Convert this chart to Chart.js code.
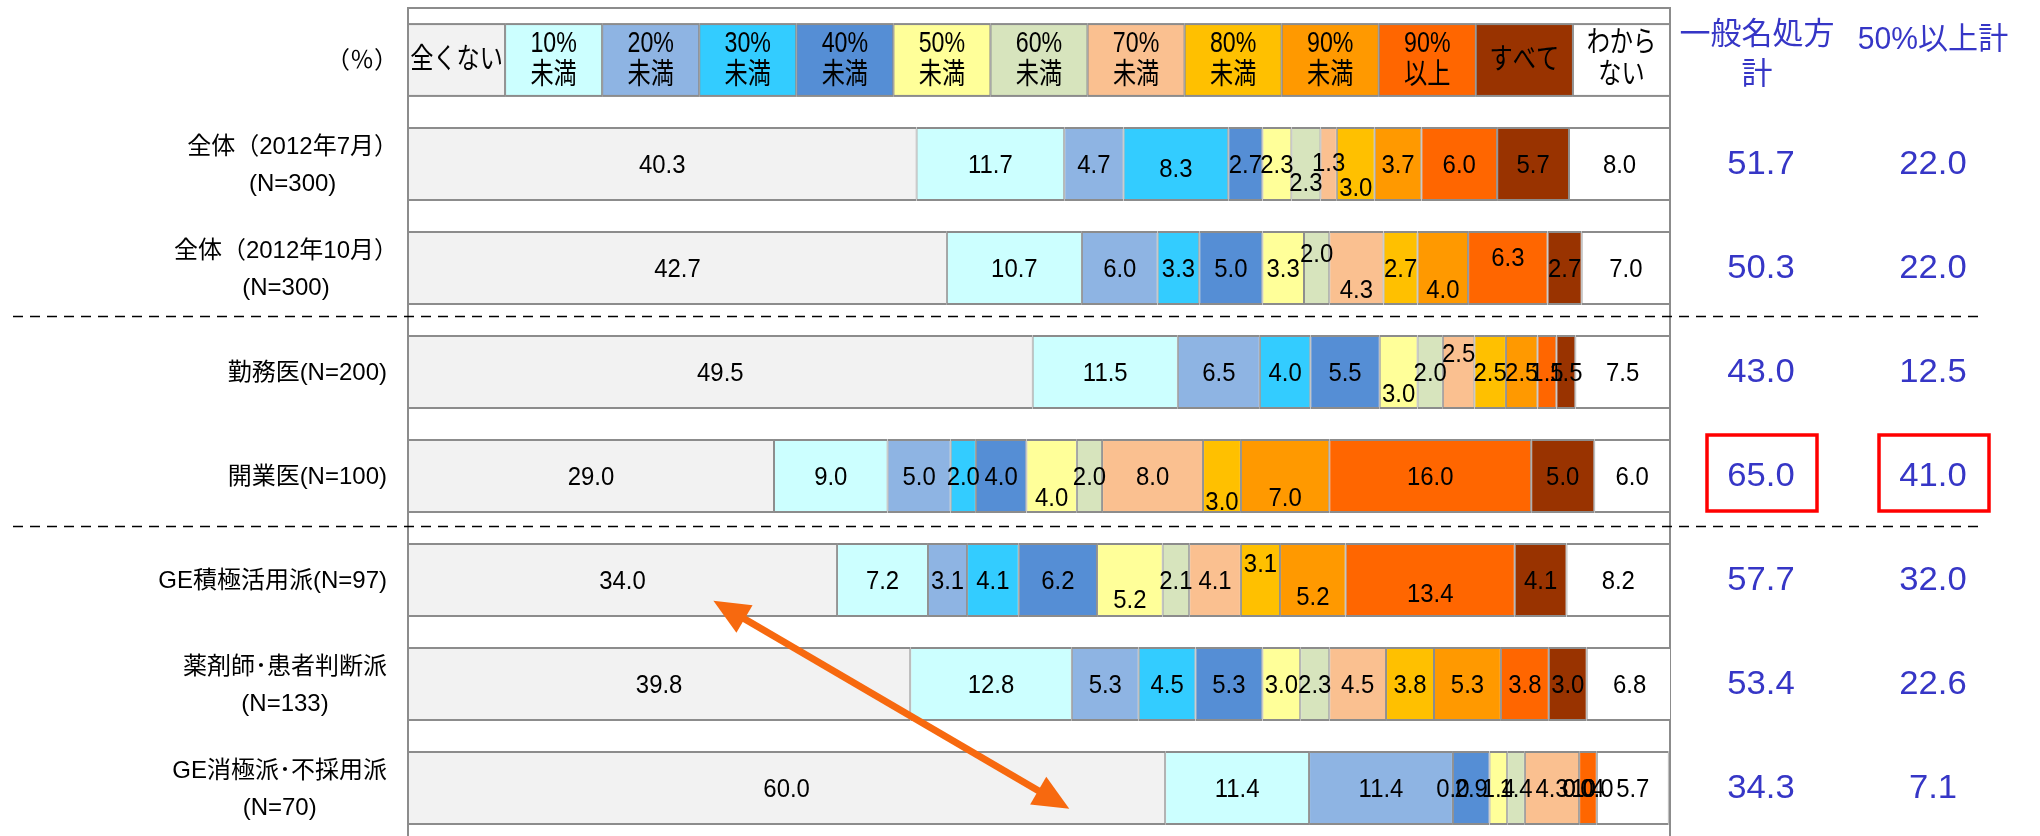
<!DOCTYPE html>
<html lang="ja">
<head>
<meta charset="utf-8">
<title>一般名処方の割合</title>
<script src="https://cdn.jsdelivr.net/npm/chart.js@4.4.1/dist/chart.umd.min.js"></script>
<style>
  html, body { margin: 0; padding: 0; background: #ffffff; overflow: hidden; }
  #wrap { width: 2040px; height: 848px; }
</style>
</head>
<body>
<div id="wrap"><canvas id="chart" width="2040" height="848"></canvas></div>
<script>
// Row captions (row 0 is the header strip that carries the colour key)
const rowLabels = [
  ['（％）'],
  ['全体（2012年7月）', '(N=300)'],
  ['全体（2012年10月）', '(N=300)'],
  ['勤務医(N=200)'],
  ['開業医(N=100)'],
  ['GE積極活用派(N=97)'],
  ['薬剤師･患者判断派', '(N=133)'],
  ['GE消極派･不採用派', '(N=70)']
];

// Answer categories (key captions, split into lines)
const categoryNames = [
  ['全くない'], ['10%', '未満'], ['20%', '未満'], ['30%', '未満'], ['40%', '未満'],
  ['50%', '未満'], ['60%', '未満'], ['70%', '未満'], ['80%', '未満'], ['90%', '未満'],
  ['90%', '以上'], ['すべて'], ['わから', 'ない']
];

// Shares (%) per category, rows: 7月, 10月, 勤務医, 開業医, GE積極, 薬剤師・患者, GE消極
const none       = [40.3, 42.7, 49.5, 29.0, 34.0, 39.8, 60.0];
const under10    = [11.7, 10.7, 11.5,  9.0,  7.2, 12.8, 11.4];
const under20    = [ 4.7,  6.0,  6.5,  5.0,  3.1,  5.3, 11.4];
const under30    = [ 8.3,  3.3,  4.0,  2.0,  4.1,  4.5,  0.0];
const under40    = [ 2.7,  5.0,  5.5,  4.0,  6.2,  5.3,  2.9];
const under50    = [ 2.3,  3.3,  3.0,  4.0,  5.2,  3.0,  1.4];
const under60    = [ 2.3,  2.0,  2.0,  2.0,  2.1,  2.3,  1.4];
const under70    = [ 1.3,  4.3,  2.5,  8.0,  4.1,  4.5,  4.3];
const under80    = [ 3.0,  2.7,  2.5,  3.0,  3.1,  3.8,  0.0];
const under90    = [ 3.7,  4.0,  2.5,  7.0,  5.2,  5.3,  0.0];
const over90     = [ 6.0,  6.3,  1.5, 16.0, 13.4,  3.8,  1.4];
const allOfThem  = [ 5.7,  2.7,  1.5,  5.0,  4.1,  3.0,  0.0];
const unknown    = [ 8.0,  7.0,  7.5,  6.0,  8.2,  6.8,  5.7];

// Summary columns
const genericTotal = [51.7, 50.3, 43.0, 65.0, 57.7, 53.4, 34.3];
const over50Total  = [22.0, 22.0, 12.5, 41.0, 32.0, 22.6, 7.1];
const summaryHeads = [['一般名処方', '計'], ['50%以上計']];
const highlightRow = 4;

const seriesValues = [none, under10, under20, under30, under40, under50, under60,
                      under70, under80, under90, over90, allOfThem, unknown];
const seriesColors = ['#F2F2F2', '#CCFFFF', '#8EB4E3', '#33CCFF', '#558ED5', '#FFFF99',
                      '#D7E4BD', '#FAC090', '#FFC000', '#FF9900', '#FF6600', '#993300', '#FFFFFF'];

// Vertical nudges (px) for crowded value labels: row -> {category: dy}
const labelNudge = {
  1: {3: 4, 6: 18, 7: -2, 8: 23},
  2: {6: -15, 7: 21, 9: 21, 10: -11},
  3: {5: 21, 7: -19},
  4: {5: 21, 8: 25, 9: 21},
  5: {5: 19, 8: -17, 9: 16, 10: 13}
};

const BORDER = '#8C8C8C';
const BLUE = '#3636C6';
const NUM_FONT = '"Liberation Sans", Arial, sans-serif';
const JP_FONT = '"Liberation Sans", "Noto Sans CJK JP", sans-serif';

function drawText(ctx, text, x, y, size, family, scaleX, align, color) {
  ctx.save();
  ctx.translate(x, y);
  ctx.scale(scaleX, 1);
  ctx.font = size + 'px ' + family;
  ctx.textAlign = align;
  ctx.textBaseline = 'middle';
  ctx.fillStyle = color;
  ctx.fillText(text, 0, 0);
  ctx.restore();
}

// White plot area with grey frame
const framePlugin = {
  id: 'frame',
  beforeDatasetsDraw(chart) {
    const {ctx, chartArea: a} = chart;
    ctx.save();
    ctx.fillStyle = '#ffffff';
    ctx.fillRect(a.left, a.top, a.right - a.left, a.bottom - a.top);
    ctx.strokeStyle = BORDER;
    ctx.lineWidth = 2;
    ctx.beginPath();
    ctx.moveTo(a.left, a.bottom + 10);
    ctx.lineTo(a.left, a.top);
    ctx.lineTo(a.right, a.top);
    ctx.lineTo(a.right, a.bottom + 10);
    ctx.stroke();
    ctx.restore();
  }
};

const overlayPlugin = {
  id: 'overlay',
  afterDatasetsDraw(chart) {
    const {ctx, chartArea: a} = chart;
    const xs = chart.scales.x, ys = chart.scales.y;
    const sample = chart.getDatasetMeta(0).data[1];
    const half = sample.height / 2;

    // colour key strip in row 0
    const yk = ys.getPixelForValue(0);
    const n = categoryNames.length;
    categoryNames.forEach((lines, i) => {
      const x0 = xs.getPixelForValue(i * 100 / n);
      const x1 = xs.getPixelForValue((i + 1) * 100 / n);
      ctx.fillStyle = BORDER;
      ctx.fillRect(x0, yk - half, x1 - x0, half * 2);
      ctx.fillStyle = seriesColors[i];
      ctx.fillRect(x0 + 1, yk - half + 2, x1 - x0 - 2, half * 2 - 4);
      const cx = (x0 + x1) / 2;
      if (lines.length === 1) {
        drawText(ctx, lines[0], cx, yk + 1, 29, JP_FONT, 0.8, 'center', '#000');
      } else {
        drawText(ctx, lines[0], cx, yk - 16, 29, JP_FONT, 0.8, 'center', '#000');
        drawText(ctx, lines[1], cx, yk + 16, 29, JP_FONT, 0.8, 'center', '#000');
      }
    });

    // value labels on the segments
    chart.data.datasets.forEach((ds, i) => {
      const meta = chart.getDatasetMeta(i);
      meta.data.forEach((el, j) => {
        const v = ds.data[j];
        if (v === null || v === undefined) return;
        const nudge = (labelNudge[j] && labelNudge[j][i]) || 0;
        const cx = (el.x + el.base) / 2;
        drawText(ctx, v.toFixed(1), cx, el.y + 2 + nudge, 26, NUM_FONT, 0.92, 'center', '#000');
      });
    });

    // row captions: block right-aligned, lines centred inside the block
    ctx.save();
    ctx.font = '24px ' + JP_FONT;
    rowLabels.forEach((lines, r) => {
      const y = ys.getPixelForValue(r);
      const widths = lines.map(t => ctx.measureText(t).width);
      const w = Math.max(...widths);
      const right = a.left - 21 + (lines[0].endsWith('）') ? 11 : 0);
      const cx = right - w / 2;
      if (lines.length === 1) {
        drawText(ctx, lines[0], cx, y + 1, 24, JP_FONT, 1, 'center', '#000');
      } else {
        drawText(ctx, lines[0], cx, y - 17, 24, JP_FONT, 1, 'center', '#000');
        drawText(ctx, lines[1], cx, y + 20, 24, JP_FONT, 1, 'center', '#000');
      }
    });
    ctx.restore();

    // summary columns
    const colX = [a.right + 91, a.right + 263];
    drawText(ctx, summaryHeads[0][0], colX[0] - 4, 35, 31, JP_FONT, 1, 'center', BLUE);
    drawText(ctx, summaryHeads[0][1], colX[0] - 4, 75, 31, JP_FONT, 1, 'center', BLUE);
    drawText(ctx, summaryHeads[1][0], colX[1], 40, 31, JP_FONT, 0.97, 'center', BLUE);
    [genericTotal, over50Total].forEach((col, c) => {
      col.forEach((v, k) => {
        const y = ys.getPixelForValue(k + 1);
        drawText(ctx, v.toFixed(1), colX[c], y + 1, 33, NUM_FONT, 1.05, 'center', BLUE);
        if (k + 1 === highlightRow) {
          ctx.save();
          ctx.strokeStyle = '#FF0000';
          ctx.lineWidth = 3.5;
          ctx.strokeRect(colX[c] - 54, y - 41, 110, 76);
          ctx.restore();
        }
      });
    });

    // dashed group separators
    ctx.save();
    ctx.strokeStyle = '#000';
    ctx.lineWidth = 1.5;
    ctx.setLineDash([10, 7]);
    [2.46, 4.48].forEach(v => {
      const y = Math.round(ys.getPixelForValue(v)) + 0.5;
      ctx.beginPath();
      ctx.moveTo(13, y);
      ctx.lineTo(1978, y);
      ctx.stroke();
    });
    ctx.restore();

    // double-headed arrow between the GE groups
    const p1 = {x: xs.getPixelForValue(24.2), y: ys.getPixelForValue(5.2)};
    const p2 = {x: xs.getPixelForValue(52.4), y: ys.getPixelForValue(7.2)};
    const dx = p2.x - p1.x, dy = p2.y - p1.y, len = Math.hypot(dx, dy);
    const ux = dx / len, uy = dy / len, nx = -uy, ny = ux;
    const L = 36, HW = 16;
    ctx.save();
    ctx.strokeStyle = '#F7690F';
    ctx.fillStyle = '#F7690F';
    ctx.lineWidth = 7;
    ctx.beginPath();
    ctx.moveTo(p1.x + ux * L * 0.8, p1.y + uy * L * 0.8);
    ctx.lineTo(p2.x - ux * L * 0.8, p2.y - uy * L * 0.8);
    ctx.stroke();
    [[p1, 1], [p2, -1]].forEach(([p, s]) => {
      const bx = p.x + s * ux * L, by = p.y + s * uy * L;
      ctx.beginPath();
      ctx.moveTo(p.x, p.y);
      ctx.lineTo(bx + nx * HW, by + ny * HW);
      ctx.lineTo(bx - nx * HW, by - ny * HW);
      ctx.closePath();
      ctx.fill();
    });
    ctx.restore();
  }
};

const datasets = seriesValues.map((vals, i) => ({
  label: categoryNames[i].join(''),
  data: [null, ...vals],
  backgroundColor: seriesColors[i],
  borderColor: BORDER,
  borderWidth: {top: 2, bottom: 2, left: 1, right: 1},
  borderSkipped: false,
  categoryPercentage: 1,
  barPercentage: 0.71
}));

new Chart(document.getElementById('chart'), {
  type: 'bar',
  data: { labels: rowLabels.map(l => l.join(' ')), datasets },
  options: {
    responsive: false,
    animation: false,
    devicePixelRatio: 1,
    indexAxis: 'y',
    layout: { padding: { left: 408, right: 370, top: 8, bottom: 8 } },
    plugins: { legend: { display: false }, tooltip: { enabled: false } },
    scales: {
      x: { stacked: true, min: 0, max: 100, display: false },
      y: { stacked: true, display: false, offset: true }
    }
  },
  plugins: [framePlugin, overlayPlugin]
});
</script>
</body>
</html>
